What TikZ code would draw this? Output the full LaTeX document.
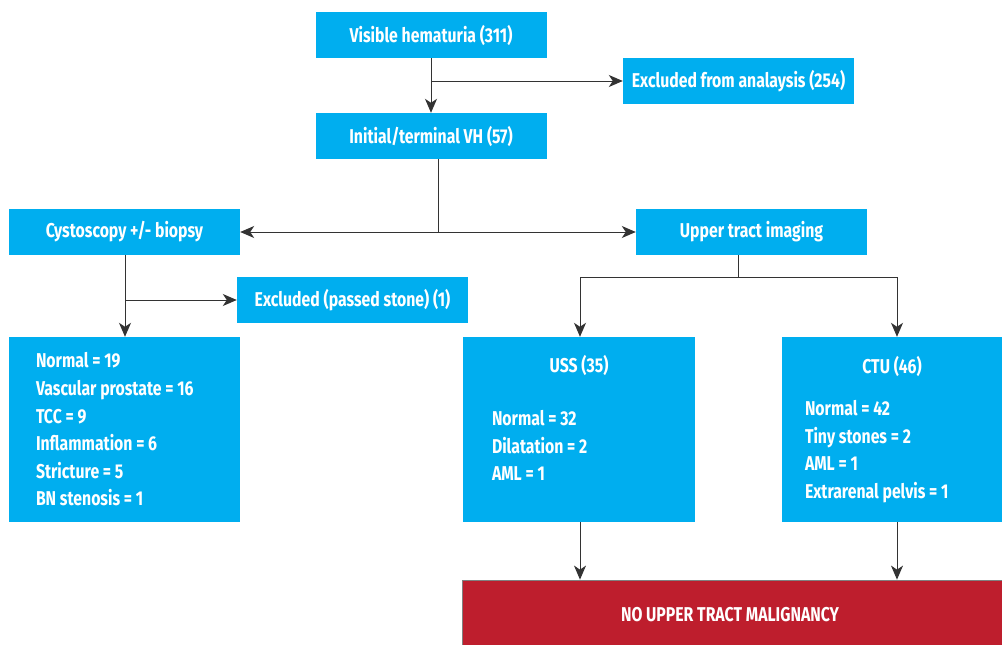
\documentclass[tikz,border=0pt]{standalone}
\usepackage{fontspec}
\usepackage{xcolor}
\usetikzlibrary{positioning,arrows.meta,calc}
\newfontfamily\boxfont{Fira Sans}[FakeStretch=0.79]
\definecolor{myblue}{RGB}{0,174,239}
\definecolor{myred}{RGB}{190,30,45}
\definecolor{myline}{RGB}{51,51,51}

\begin{document}
\begin{tikzpicture}[x=1pt,y=-1pt,
        every node/.style={font=\boxfont\bfseries\fontsize{20}{27.6}\selectfont,text=white,inner sep=0pt},
        bluebox/.style={fill=myblue,minimum width=231pt,minimum height=46pt},
        listbox/.style={fill=myblue,minimum height=185pt,align=flush left,anchor=center},
        redbox/.style={fill=myred,draw=gray,line width=0.8pt,minimum width=540pt,minimum height=66pt},
        link/.style={draw=myline,line width=1pt},
        arr/.style={link,-{Stealth[length=14pt,width=12pt,inset=4pt]}}
      ]
      \useasboundingbox (0,0) rectangle (1002,645);

      % the top of the chart
      \node[bluebox] (visible) at (431,35) {Visible hematuria (311)};
      \node[bluebox] (exanalysis) at (738.5,81) {Excluded from analaysis (254)};
      \node[bluebox] (initial) at (431,136) {Initial/terminal VH (57)};

      % the two branches
      \node[bluebox] (cysto) at (124.5,232) {Cystoscopy +/- biopsy};
      \node[bluebox] (upper) at (751.5,232) {Upper tract imaging};
      \node[bluebox] (exstone) at (352.5,300) {Excluded (passed stone) (1)};

      % the result boxes
      \node[listbox,text width=177pt,inner xsep=27pt] (cystolist) at (124.5,429.5)
        {Normal = 19\\Vascular prostate = 16\\TCC = 9\\Inflammation = 6\\Stricture = 5\\BN stenosis = 1};
      \node[listbox,text width=174pt,inner xsep=29pt] (uss) at (579,429.5)
        {\makebox[\linewidth]{USS (35)}\\[25pt]Normal = 32\\Dilatation = 2\\AML = 1\\[-5pt]\mbox{}};
      \node[listbox,text width=174pt,inner xsep=23pt] (ctu) at (892,429.5)
        {\makebox[\linewidth]{CTU (46)}\\[15pt]Normal = 42\\Tiny stones = 2\\AML = 1\\Extrarenal pelvis = 1};
      \node[redbox] (nomalig) at (732,613) {};
      \node (nomaligtext) at (730,615) {NO UPPER TRACT MALIGNANCY};

      % the branch points
      \coordinate (b1) at (431,81);
      \coordinate (split) at (438,232);
      \coordinate (b2) at (125,300);
      \coordinate (ut) at (738,277);
      \coordinate (l) at (580,277);
      \coordinate (r) at (897,277);

      % the edges
      \draw[arr] (visible) -- (initial);
      \draw[arr] (b1) -- (exanalysis);
      \draw[link] (initial.south -| split) -- (split);
      \draw[arr] (split) -- (cysto);
      \draw[arr] (split) -- (upper);
      \draw[arr] (cysto.south -| b2) -- (cystolist.north -| b2);
      \draw[arr] (b2) -- (exstone);
      \draw[link] (upper.south -| ut) -- (ut);
      \draw[arr] (ut) -- (l) -- (l |- uss.north);
      \draw[arr] (ut) -- (r) -- (r |- ctu.north);
      \draw[arr] (uss.south -| l) -- (l |- nomalig.north);
      \draw[arr] (ctu.south -| r) -- (r |- nomalig.north);
 \end{tikzpicture}
\end{document}
